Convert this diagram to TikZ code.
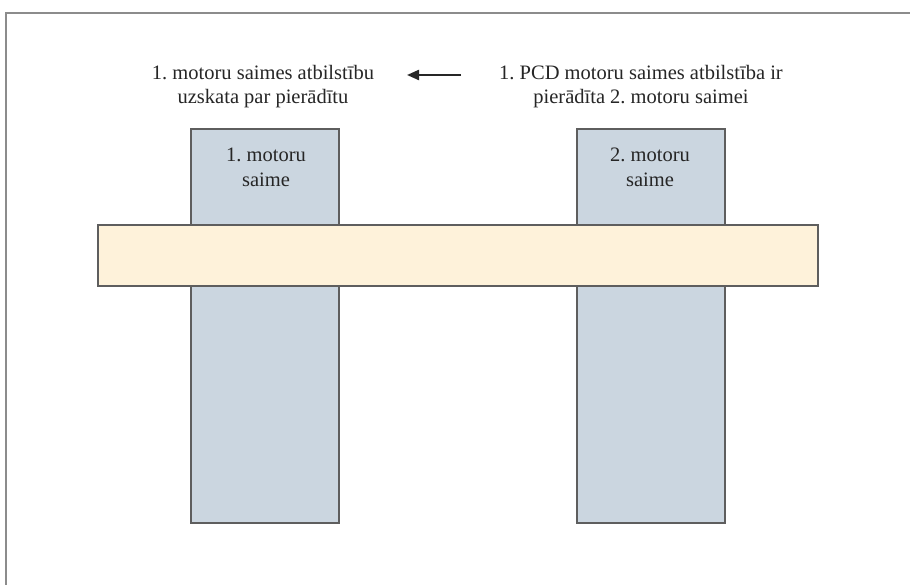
\documentclass[tikz,border=0pt]{standalone}
\usepackage{fontspec}
\setmainfont{Liberation Serif}
\usetikzlibrary{arrows.meta}
\definecolor{framegray}{HTML}{8C8C8C}
\definecolor{edgegray}{HTML}{5E5E5E}
\definecolor{famblue}{HTML}{CBD6E0}
\definecolor{barcream}{HTML}{FEF2DA}
\frenchspacing
\begin{document}
\begin{tikzpicture}[x=1pt,y=-1pt,
  famibox/.style={draw=edgegray,line width=1.8pt,fill=famblue,rectangle,inner sep=0pt},
  crossbar/.style={draw=edgegray,line width=1.8pt,fill=barcream,rectangle,inner sep=0pt},
  caption/.style={align=center,font=\fontsize{20.5}{24}\selectfont,inner sep=0pt,text=black!85},
  boxlabel/.style={align=center,font=\fontsize{20.5}{25}\selectfont,inner sep=0pt,text=black!85},
  pointer/.style={line width=2.2pt,draw=black!85,-{Triangle[length=12pt,width=10pt]}}]
  \useasboundingbox (0,0) rectangle (910,585);
  \fill[white] (0,0) rectangle (910,585);
  % open frame: top and left edges only
  \draw[framegray,line width=2pt] (6,585) -- (6,13) -- (910,13);
  % the two motor families
  \node[famibox,minimum width=148pt,minimum height=394pt,anchor=north west] (fam1) at (190,128) {};
  \node[famibox,minimum width=148pt,minimum height=394pt,anchor=north west] (fam2) at (576,128) {};
  % horizontal bar across both families
  \node[crossbar,minimum width=720pt,minimum height=61pt,anchor=north west] (bar) at (97,224) {};
  % labels inside the family boxes
  \node[boxlabel] (lab1) at (266,167) {1. motoru\\saime};
  \node[boxlabel] (lab2) at (650,167) {2. motoru\\saime};
  % captions above
  \node[caption] (capL) at (263,87) {1. motoru saimes atbilstību\\uzskata par pierādītu};
  \node[caption] (capR) at (641,87) {1. PCD motoru saimes atbilstība ir\\pierādīta 2. motoru saimei};
  \coordinate (arrS) at (461,75);
  \coordinate (arrE) at (407,75);
  \draw[pointer] (arrS) -- (arrE);
\end{tikzpicture}
\end{document}
